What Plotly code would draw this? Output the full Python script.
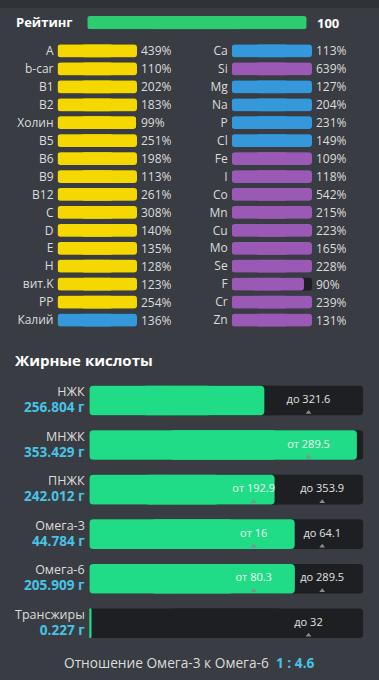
import plotly.graph_objects as go

# ---------------- data ----------------
rating_label = "Рейтинг"
rating_value = 100

vit_names = ['A', 'b-car', 'B1', 'B2', 'Холин', 'B5', 'B6', 'B9', 'B12', 'C', 'D', 'E', 'H', 'вит.K', 'PP', 'Калий']
vit_pct = [439, 110, 202, 183, 99, 251, 198, 113, 261, 308, 140, 135, 128, 123, 254, 136]
vit_group = ['vit'] * 15 + ['macro']

min_names = ['Ca', 'Si', 'Mg', 'Na', 'P', 'Cl', 'Fe', 'I', 'Co', 'Mn', 'Cu', 'Mo', 'Se', 'F', 'Cr', 'Zn']
min_pct = [113, 639, 127, 204, 231, 149, 109, 118, 542, 215, 223, 165, 228, 90, 239, 131]
min_group = ['macro', 'micro', 'macro', 'macro', 'macro', 'macro', 'micro', 'micro',
             'micro', 'micro', 'micro', 'micro', 'micro', 'micro', 'micro', 'micro']

fa_title = "Жирные кислоты"
fa_names = ['НЖК', 'МНЖК', 'ПНЖК', 'Омега-3', 'Омега-6', 'Трансжиры']
fa_amount = [256.804, 353.429, 242.012, 44.784, 205.909, 0.227]
fa_from = [None, 289.5, 192.9, 16, 80.3, None]
fa_to = [321.6, None, 353.9, 64.1, 289.5, 32]

ratio_label = "Отношение Омега-3 к Омега-6"

# ---------------- style ----------------
W, H = 379, 680
BG = '#393c42'
TOP = '#2f3237'
TRACK = '#1e1f23'
TXT = '#dcdcdc'
CYAN = '#47c3e6'
GROUP_COL = {'vit': '#f4d800', 'macro': '#3498db', 'micro': '#9b59b6'}
RATING_GREEN = '#2ecc71'
FA_GREEN = '#21dc87'
FONT = 'Open Sans'


def px(x):
    return x / W


def py(y):
    return 1 - y / H


def rounded(x0s, x1s, ys, color, width, xa, ya, r):
    """Bar rounded at both ends: two overlapping pieces, each rounded at its far end."""
    out = []
    lens = [b - a for a, b in zip(x0s, x1s)]
    out.append(go.Bar(y=ys, x=[0.7 * L for L in lens], base=[a + 0.3 * L for a, L in zip(x0s, lens)],
                      orientation='h', width=width,
                      marker=dict(color=color, cornerradius=r, line=dict(width=0)),
                      xaxis=xa, yaxis=ya, hoverinfo='skip', showlegend=False))
    out.append(go.Bar(y=ys, x=[-0.7 * L for L in lens], base=[a + 0.7 * L for a, L in zip(x0s, lens)],
                      orientation='h', width=width,
                      marker=dict(color=color, cornerradius=r, line=dict(width=0)),
                      xaxis=xa, yaxis=ya, hoverinfo='skip', showlegend=False))
    return out


def fa_pos(v, lo, hi):
    if lo is not None and hi is not None:
        if v <= lo:
            f = v / lo * 0.6
        elif v <= hi:
            f = 0.6 + (v - lo) / (hi - lo) * 0.25
        else:
            f = 0.85 + (v - hi) / hi * 0.6
    else:
        ref = lo if lo is not None else hi
        f = v / ref * 0.8
    return min(f, 1.0)


traces = []
traces += rounded([0], [rating_value], [0], RATING_GREEN, 1.0, 'x', 'y', 3)

n = len(vit_names)
rows = list(range(n))
for names, pct, grp, xa, ya in ((vit_names, vit_pct, vit_group, 'x2', 'y2'),
                                (min_names, min_pct, min_group, 'x3', 'y3')):
    traces += rounded([0] * n, [1] * n, rows, TRACK, 0.71, xa, ya, 3)
    traces += rounded([0] * n, [min(p / 100, 1) for p in pct], rows,
                      [GROUP_COL[g] for g in grp], 0.71, xa, ya, 3)

m = len(fa_names)
frows = list(range(m))
traces += rounded([0] * m, [1] * m, frows, TRACK, 0.665, 'x4', 'y4', 4)
fills = [fa_pos(a, lo, hi) for a, lo, hi in zip(fa_amount, fa_from, fa_to)]
traces += rounded([0] * m, fills, frows, FA_GREEN, 0.665, 'x4', 'y4', 4)

mk_x, mk_y, mk_t, mk_c = [], [], [], []
for i, (a, lo, hi) in enumerate(zip(fa_amount, fa_from, fa_to)):
    for val, word in ((lo, 'от'), (hi, 'до')):
        if val is None:
            continue
        p = fa_pos(val, lo, hi)
        mk_x.append(p)
        mk_y.append(i)
        mk_t.append(f"{word} {val:g}")
        mk_c.append('#eefaf2' if p < fills[i] else '#e2e2e2')

traces.append(go.Scatter(x=mk_x, y=mk_y, mode='text', text=mk_t,
                         textfont=dict(family=FONT, size=11, color=mk_c),
                         textposition='middle center', xaxis='x4', yaxis='y4',
                         hoverinfo='skip', showlegend=False))
traces.append(go.Scatter(x=mk_x, y=[v + 0.27 for v in mk_y], mode='markers',
                         marker=dict(symbol='triangle-up', size=5, color='#8a8a8a', line=dict(width=0)),
                         xaxis='x4', yaxis='y4', hoverinfo='skip', showlegend=False))

fig = go.Figure(traces)

hidden_x = dict(visible=False, showgrid=False, zeroline=False, fixedrange=True)
label_y = dict(showgrid=False, zeroline=False, showline=False, ticks='', fixedrange=True,
               tickfont=dict(family=FONT, size=12, color=TXT), ticklabelstandoff=3)

fig.update_layout(
    width=W, height=H, margin=dict(l=0, r=0, t=0, b=0),
    paper_bgcolor=BG, plot_bgcolor='rgba(0,0,0,0)',
    barmode='overlay', showlegend=False,
    font=dict(family=FONT, color=TXT),
    xaxis=dict(domain=[px(87.3), px(306.7)], range=[0, 100], anchor='y', **hidden_x),
    yaxis=dict(domain=[py(29.3), py(16)], range=[-0.5, 0.5], anchor='x', visible=False, fixedrange=True),
    xaxis2=dict(domain=[px(57.5), px(137)], range=[0, 1], anchor='y2', **hidden_x),
    yaxis2=dict(domain=[py(329), py(42)], range=[n - 0.5, -0.5], anchor='x2',
                tickvals=rows, ticktext=vit_names, **label_y),
    xaxis3=dict(domain=[px(231.7), px(312)], range=[0, 1], anchor='y3', **hidden_x),
    yaxis3=dict(domain=[py(329), py(42)], range=[n - 0.5, -0.5], anchor='x3',
                tickvals=rows, ticktext=min_names, **label_y),
    xaxis4=dict(domain=[px(89.3), px(363.3)], range=[0, 1], anchor='y4', **hidden_x),
    yaxis4=dict(domain=[py(645.5), py(378.25)], range=[m - 0.5, -0.5], anchor='x4', visible=False,
                fixedrange=True),
)

shapes = [dict(type='rect', xref='paper', yref='paper', x0=0, x1=1, y0=py(8), y1=1,
               fillcolor=TOP, line=dict(width=0), layer='below')]

ann = []
ann.append(dict(text=f"<b>{rating_label}</b>", xref='paper', yref='paper', x=px(14), y=py(22.5),
                xanchor='left', yanchor='middle', showarrow=False,
                font=dict(family=FONT, size=13, color='#ffffff')))
ann.append(dict(text=f"<b>{rating_value}</b>", xref='x', yref='y', x=rating_value, y=0,
                xanchor='left', yanchor='middle', xshift=8, showarrow=False,
                font=dict(family=FONT, size=13, color='#ffffff')))
for pct, xa, ya in ((vit_pct, 'x2', 'y2'), (min_pct, 'x3', 'y3')):
    for i, p in enumerate(pct):
        ann.append(dict(text=f"{p}%", xref=xa, yref=ya, x=1, y=i, xanchor='left', yanchor='middle',
                        xshift=2, showarrow=False, font=dict(family=FONT, size=12, color=TXT)))

ann.append(dict(text=f"<b>{fa_title}</b>", xref='paper', yref='paper', x=px(13), y=py(360),
                xanchor='left', yanchor='middle', showarrow=False,
                font=dict(family=FONT, size=15, color='#ffffff')))
for i, (nm, a) in enumerate(zip(fa_names, fa_amount)):
    label = (f"<span style='font-size:12.5px'>{nm}</span><br>"
             f"<b><span style='font-size:13.6px;color:{CYAN}'>{a:.3f} г</span></b>")
    ann.append(dict(text=label, xref='paper', yref='y4', x=px(85.5), y=i, xanchor='right', align='right',
                    yanchor='middle', yshift=1, showarrow=False, borderpad=0,
                    font=dict(family=FONT, size=12, color=TXT)))

ratio = fa_amount[4] / fa_amount[3]
ann.append(dict(text=f"{ratio_label}&nbsp;&nbsp;<b><span style='color:{CYAN}'>1 : {ratio:.1f}</span></b>",
                xref='paper', yref='paper', x=px(189), y=py(662), xanchor='center', yanchor='middle',
                showarrow=False, font=dict(family=FONT, size=13.7, color=TXT)))

fig.update_layout(shapes=shapes, annotations=ann)
fig.write_html("out.html", config={'displayModeBar': False},
               post_script="document.body.style.margin='0';document.body.style.overflow='hidden';"
                           "document.body.style.background='" + BG + "';")
